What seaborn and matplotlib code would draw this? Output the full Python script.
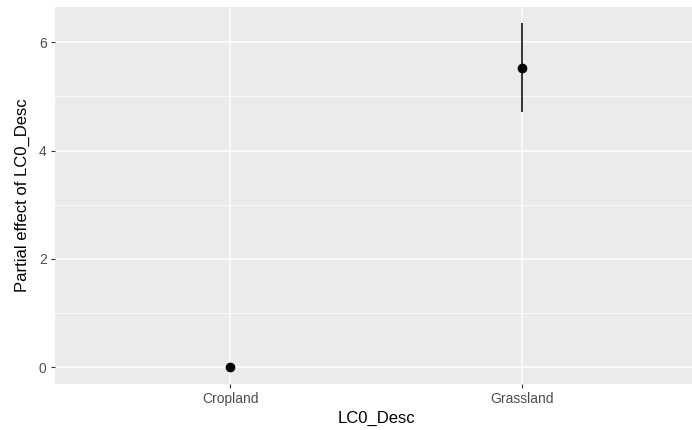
import numpy as np
import pandas as pd
import matplotlib
matplotlib.use("Agg")
import matplotlib.pyplot as plt
import seaborn as sns

# values
categories = ["Cropland", "Grassland"]
effect = [0.0, 5.53]
lower = [0.0, 4.72]
upper = [0.0, 6.35]

df = pd.DataFrame({"LC0_Desc": categories, "effect": effect, "lower": lower, "upper": upper})

sns.set_theme(style="darkgrid", rc={
    "axes.facecolor": "#EBEBEB",
    "grid.color": "white",
    "axes.edgecolor": "#EBEBEB",
    "xtick.color": "#333333",
    "ytick.color": "#333333",
    "xtick.labelcolor": "#4D4D4D",
    "ytick.labelcolor": "#4D4D4D",
    "xtick.bottom": True,
    "ytick.left": True,
    "xtick.major.size": 3,
    "ytick.major.size": 3,
    "xtick.major.width": 0.8,
    "ytick.major.width": 0.8,
})
plt.rcParams["font.family"] = ["Liberation Sans", "DejaVu Sans"]

fig = plt.figure(figsize=(6.92, 4.30), dpi=100)
# panel runs a little past the right edge in the reference (cropped screenshot)
ax = fig.add_axes([55 / 692, 46 / 430, 642 / 692, 377 / 430])

ax.vlines(df["LC0_Desc"], df["lower"], df["upper"], color="black", linewidth=1.1, zorder=3)
sns.scatterplot(data=df, x="LC0_Desc", y="effect", color="black", s=42, edgecolor="black",
                linewidth=0.5, ax=ax, zorder=4)

ax.set_xlim(-0.6, 1.6)
ax.set_ylim(-0.31, 6.65)
ax.set_yticks([0, 2, 4, 6])
ax.set_yticks([1, 3, 5], minor=True)
ax.grid(which="major", color="white", linewidth=1.1)
ax.grid(which="minor", axis="y", color="white", linewidth=0.55)
ax.tick_params(axis="both", which="major", labelsize=10, pad=3)
ax.tick_params(axis="y", which="minor", left=False)
for s in ax.spines.values():
    s.set_visible(False)

ax.set_xlabel("LC0_Desc", fontsize=12, color="black", labelpad=3)
ax.set_ylabel("Partial effect of LC0_Desc", fontsize=12, color="black", labelpad=6)

fig.savefig("out.png", dpi=100)
